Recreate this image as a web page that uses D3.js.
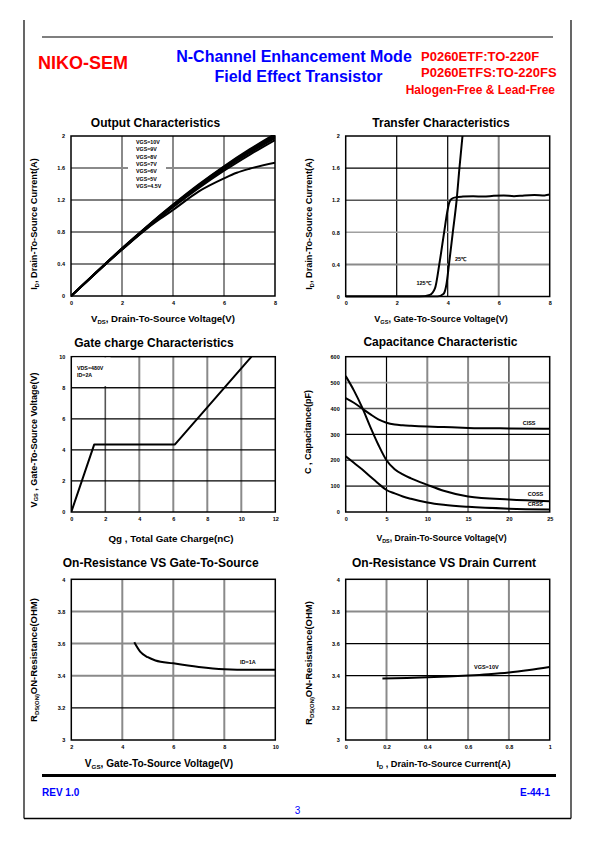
<!DOCTYPE html>
<html><head><meta charset="utf-8">
<script src="https://cdn.jsdelivr.net/npm/d3@7"></script>
<style>body{margin:0;background:#fff}svg{display:block}</style>
</head><body><svg id="c" width="595" height="842"></svg>
<script>
// ---------------- DATA ----------------
// Output characteristics
const outVds = [0, 1, 2, 3, 4, 5, 6, 7, 8];
const outId10 = [0, 0.300, 0.596, 0.876, 1.142, 1.392, 1.622, 1.832, 2.025];
const outId9  = [0, 0.299, 0.593, 0.872, 1.137, 1.385, 1.614, 1.822, 2.012];
const outId8  = [0, 0.298, 0.590, 0.868, 1.132, 1.378, 1.606, 1.812, 2.000];
const outId7  = [0, 0.297, 0.588, 0.864, 1.127, 1.372, 1.598, 1.802, 1.990];
const outId6  = [0, 0.296, 0.585, 0.860, 1.120, 1.362, 1.586, 1.788, 1.975];
const outId5  = [0, 0.295, 0.582, 0.854, 1.110, 1.348, 1.566, 1.765, 1.950];
const outVds45 = [0, 1, 2, 3, 3.5, 4, 5, 6, 6.5, 7, 8];
const outId45  = [0, 0.295, 0.580, 0.848, 0.965, 1.075, 1.305, 1.470, 1.540, 1.590, 1.665];
const outLegend = ["VGS=10V", "VGS=9V", "VGS=8V", "VGS=7V", "VGS=6V", "VGS=5V", "VGS=4.5V"];
const outXTicks = [0, 2, 4, 6, 8];
const outYTicks = [0, 0.4, 0.8, 1.2, 1.6, 2];

// Transfer characteristics
const trVgs125 = [0, 2.9, 3.3, 3.5, 3.67, 3.86, 3.98, 4.06, 4.15, 4.3, 4.6, 5.0, 5.4, 5.8, 6.2, 6.6, 7.0, 7.4, 7.8, 8.0];
const trId125  = [0, 0, 0.02, 0.10, 0.40, 0.80, 1.05, 1.17, 1.215, 1.235, 1.245, 1.25, 1.245, 1.255, 1.26, 1.25, 1.26, 1.265, 1.26, 1.27];
const trVgs25  = [0, 3.6, 3.83, 3.95, 4.05, 4.2, 4.35, 4.46, 4.58];
const trId25   = [0, 0, 0.03, 0.15, 0.40, 0.80, 1.20, 1.60, 2.00];
const trLabels = ["125\u2103", "25\u2103"];
const trXTicks = [0, 2, 4, 6, 8];
const trYTicks = [0, 0.4, 0.8, 1.2, 1.6, 2];

// Gate charge
const gcQg  = [0, 1.35, 6.1, 10.6];
const gcVgs = [0, 4.35, 4.35, 10];
const gcLegend = ["VDS=480V", "ID=2A"];
const gcXTicks = [0, 2, 4, 6, 8, 10, 12];
const gcYTicks = [0, 2, 4, 6, 8, 10];

// Capacitance
const capVds  = [0, 1, 2, 3, 4, 5, 6, 7, 8, 10, 12, 15, 20, 25];
const capCiss = [440, 422, 400, 378, 358, 345, 338, 335, 333, 330, 328, 325, 323, 322];
const capCoss = [525, 470, 405, 330, 260, 200, 165, 145, 130, 105, 82, 60, 48, 42];
const capCrss = [215, 190, 165, 137, 110, 85, 72, 60, 51, 37, 28, 20, 13, 10];
const capLabels = ["CISS", "COSS", "CRSS"];
const capXTicks = [0, 5, 10, 15, 20, 25];
const capYTicks = [0, 100, 200, 300, 400, 500, 600];

// On-resistance vs VGS
const rgVgs = [4.47, 4.7, 5.0, 5.3, 6.0, 7.0, 8.0, 9.0, 10.0];
const rgRds = [3.608, 3.55, 3.515, 3.495, 3.477, 3.455, 3.441, 3.437, 3.437];
const rgLabel = "ID=1A";
const rgXTicks = [2, 4, 6, 8, 10];
const rgYTicks = [3, 3.2, 3.4, 3.6, 3.8, 4];

// On-resistance vs ID
const riId  = [0.18, 0.3, 0.4, 0.5, 0.6, 0.7, 0.8, 0.9, 1.0];
const riRds = [3.382, 3.386, 3.39, 3.395, 3.401, 3.409, 3.42, 3.436, 3.455];
const riLabel = "VGS=10V";
const riXTicks = [0, 0.2, 0.4, 0.6, 0.8, 1];
const riYTicks = [3, 3.2, 3.4, 3.6, 3.8, 4];

// ---------------- DRAW ----------------
const FONT = '"Liberation Sans", Arial, Helvetica, sans-serif';
const svg = d3.select("#c");
svg.append("rect").attr("width", 595).attr("height", 842).attr("fill", "#fff");

const RED = "#ff0000", BLUE = "#0000ff";
function txt(g, s, x, y, size, opts = {}) {
  return g.append("text").attr("x", x).attr("y", y).text(s)
    .attr("font-family", FONT).attr("font-size", size)
    .attr("font-weight", opts.weight || "bold")
    .attr("fill", opts.fill || "#000")
    .attr("text-anchor", opts.anchor || "start");
}
function richText(g, parts, size, attrs) {
  const t = g.append("text").attr("font-family", FONT).attr("font-weight", "bold")
    .attr("font-size", size).attr("fill", "#000");
  for (const k in attrs) t.attr(k, attrs[k]);
  let shifted = false;
  parts.forEach(p => {
    const ts = t.append("tspan").text(p[0]);
    if (p[1] && !shifted) { ts.attr("font-size", size * 0.62).attr("dy", size * 0.22); shifted = true; }
    else if (!p[1] && shifted) { ts.attr("dy", -size * 0.22); shifted = false; }
  });
  return t;
}

// page frame
const page = svg.append("g");
page.append("line").attr("x1", 24).attr("x2", 24).attr("y1", 20).attr("y2", 818.5).attr("stroke", "#000").attr("stroke-width", 1.2);
page.append("line").attr("x1", 571).attr("x2", 571).attr("y1", 20).attr("y2", 818.5).attr("stroke", "#000").attr("stroke-width", 1.2);
page.append("line").attr("x1", 24).attr("x2", 571).attr("y1", 818.5).attr("y2", 818.5).attr("stroke", "#000").attr("stroke-width", 1.5);
page.append("line").attr("x1", 42).attr("x2", 553).attr("y1", 37).attr("y2", 37).attr("stroke", "#000").attr("stroke-width", 1.2);
page.append("line").attr("x1", 42).attr("x2", 556).attr("y1", 775.5).attr("y2", 775.5).attr("stroke", "#000").attr("stroke-width", 3);

// header
txt(page, "NIKO-SEM", 38, 69, 18, { fill: RED });
txt(page, "N-Channel Enhancement Mode", 294, 62, 16, { fill: BLUE, anchor: "middle" });
txt(page, "Field Effect Transistor", 298.5, 81.5, 16, { fill: BLUE, anchor: "middle" });
txt(page, "P0260ETF:TO-220F", 421, 61, 13, { fill: RED });
txt(page, "P0260ETFS:TO-220FS", 421, 76.5, 13, { fill: RED });
txt(page, "Halogen-Free & Lead-Free", 555, 94, 12, { fill: RED, anchor: "end" });

// footer
txt(page, "REV 1.0", 42, 796, 10, { fill: BLUE });
txt(page, "E-44-1", 550, 796, 10, { fill: BLUE, anchor: "end" });
txt(page, "3", 297.5, 814, 10, { fill: BLUE, weight: "normal", anchor: "middle" });

const G = ["#8a8a8a", 2.0], K = ["#000", 1.2], D = ["#555", 1.6], L = ["#a0a0a0", 1.6];
let clipId = 0;
function panel(cfg) {
  const g = svg.append("g");
  const x = d3.scaleLinear().domain(cfg.xDomain).range([cfg.L, cfg.R]);
  const y = d3.scaleLinear().domain(cfg.yDomain).range([cfg.B, cfg.T]);
  cfg.xTicks.forEach((v, i) => {
    const st = cfg.vGrid[i]; if (!st) return;
    g.append("line").attr("x1", x(v)).attr("x2", x(v)).attr("y1", cfg.T).attr("y2", cfg.B)
      .attr("stroke", st[0]).attr("stroke-width", st[1]);
  });
  cfg.yTicks.forEach((v, i) => {
    const st = cfg.hGrid[i]; if (!st) return;
    g.append("line").attr("x1", cfg.L).attr("x2", cfg.R).attr("y1", y(v)).attr("y2", y(v))
      .attr("stroke", st[0]).attr("stroke-width", st[1]);
  });
  g.append("rect").attr("x", cfg.L).attr("y", cfg.T).attr("width", cfg.R - cfg.L).attr("height", cfg.B - cfg.T)
    .attr("fill", "none").attr("stroke", "#000").attr("stroke-width", 1.5);
  const ax = g.append("g").attr("transform", `translate(0,${cfg.B})`)
    .call(d3.axisBottom(x).tickValues(cfg.xTicks).tickSize(0).tickPadding(5).tickFormat(d => String(d)));
  ax.select(".domain").remove();
  ax.selectAll("text").attr("font-family", FONT).attr("font-weight", "bold").attr("font-size", 5.5).attr("fill", "#000");
  const ay = g.append("g").attr("transform", `translate(${cfg.L},0)`)
    .call(d3.axisLeft(y).tickValues(cfg.yTicks).tickSize(0).tickPadding(6).tickFormat(d => String(d)));
  ay.select(".domain").remove();
  ay.selectAll("text").attr("font-family", FONT).attr("font-weight", "bold").attr("font-size", 5.5).attr("fill", "#000");
  txt(g, cfg.title, cfg.titleX, cfg.titleY, 12, { anchor: "middle" });
  richText(g, cfg.xLabel, cfg.xLabelSize, { x: cfg.xLabelX, y: cfg.xLabelY, "text-anchor": "middle" });
  richText(g, cfg.yLabel, cfg.yLabelSize, { "text-anchor": "middle", transform: `translate(${cfg.yLabelX},${cfg.yLabelY}) rotate(-90)` });
  const id = "clip" + (clipId++);
  g.append("clipPath").attr("id", id).append("rect").attr("x", cfg.L).attr("y", cfg.T - 1)
    .attr("width", cfg.R - cfg.L).attr("height", cfg.B - cfg.T + 2);
  const plot = g.append("g").attr("clip-path", `url(#${id})`);
  return { g, plot, x, y };
}
function curve(p, xs, ys, kind) {
  const line = d3.line().x(d => p.x(d[0])).y(d => p.y(d[1])).curve(kind || d3.curveMonotoneX);
  p.plot.append("path").attr("d", line(d3.zip(xs, ys))).attr("fill", "none")
    .attr("stroke", "#000").attr("stroke-width", 2).attr("stroke-linejoin", "round");
}

// 1. Output Characteristics
const p1 = panel({
  L: 71, R: 275, T: 136, B: 296, xDomain: [0, 8], yDomain: [0, 2],
  xTicks: outXTicks, yTicks: outYTicks,
  vGrid: [null, G, G, G, null], hGrid: [null, K, K, K, G, null],
  title: "Output Characteristics", titleX: 155.5, titleY: 127.3,
  xLabel: [["V", 0], ["DS", 1], [", Drain-To-Source Voltage(V)", 0]], xLabelSize: 9.6, xLabelX: 163, xLabelY: 322.3,
  yLabel: [["I", 0], ["D", 1], [", Drain-To-Source Current(A)", 0]], yLabelSize: 9.2, yLabelX: 36.5, yLabelY: 224
});
p1.g.append("rect").attr("x", 128).attr("y", 137).attr("width", 38).attr("height", 54).attr("fill", "#fff");
outLegend.forEach((s, i) => txt(p1.g, s, 136, 144 + i * 7.35, 5.3));
[outId10, outId9, outId8, outId7, outId6, outId5].forEach(ys => curve(p1, outVds, ys));
curve(p1, outVds45, outId45);

// 2. Transfer Characteristics
const p2 = panel({
  L: 345.7, R: 549.7, T: 136, B: 296.5, xDomain: [0, 8], yDomain: [0, 2],
  xTicks: trXTicks, yTicks: trYTicks,
  vGrid: [null, K, K, G, null], hGrid: [null, G, L, D, K, null],
  title: "Transfer Characteristics", titleX: 441, titleY: 127.3,
  xLabel: [["V", 0], ["GS", 1], [", Gate-To-Source Voltage(V)", 0]], xLabelSize: 9.1, xLabelX: 441, xLabelY: 322,
  yLabel: [["I", 0], ["D", 1], [", Drain-To-Source Current(A)", 0]], yLabelSize: 9.2, yLabelX: 311.5, yLabelY: 224
});
curve(p2, trVgs125, trId125);
curve(p2, trVgs25, trId25);
txt(p2.g, trLabels[0], 416.5, 284.5, 5.5);
txt(p2.g, trLabels[1], 455, 260.5, 5.5);

// 3. Gate charge
const p3 = panel({
  L: 71.3, R: 275.3, T: 356.7, B: 512, xDomain: [0, 12], yDomain: [0, 10],
  xTicks: gcXTicks, yTicks: gcYTicks,
  vGrid: [null, D, G, G, G, G, null], hGrid: [null, K, K, K, K, null],
  title: "Gate charge Characteristics", titleX: 154, titleY: 346.7,
  xLabel: [["Qg , Total Gate Charge(nC)", 0]], xLabelSize: 9.8, xLabelX: 171, xLabelY: 541.7,
  yLabel: [["V", 0], ["GS", 1], [" , Gate-To-Source Voltage(V)", 0]], yLabelSize: 9, yLabelX: 36.5, yLabelY: 440
});
p3.g.append("rect").attr("x", 72.5).attr("y", 357.5).attr("width", 38).attr("height", 28.5).attr("fill", "#fff");
p3.g.append("line").attr("x1", 71.3).attr("x2", 275.3).attr("y1", p3.y(8)).attr("y2", p3.y(8)).attr("stroke", "#000").attr("stroke-width", 1.2);
gcLegend.forEach((s, i) => txt(p3.g, s, 77, 370 + i * 7, 5.3));
curve(p3, gcQg, gcVgs, d3.curveLinear);

// 4. Capacitance
const p4 = panel({
  L: 345.7, R: 549.7, T: 356.7, B: 512, xDomain: [0, 25], yDomain: [0, 600],
  xTicks: capXTicks, yTicks: capYTicks,
  vGrid: [null, K, G, G, D, null], hGrid: [null, D, D, K, D, L, null],
  title: "Capacitance Characteristic", titleX: 440.5, titleY: 346,
  xLabel: [["V", 0], ["DS", 1], [", Drain-To-Source Voltage(V)", 0]], xLabelSize: 8.7, xLabelX: 441.5, xLabelY: 541.3,
  yLabel: [["C , Capacitance(pF)", 0]], yLabelSize: 9, yLabelX: 310.5, yLabelY: 432
});
curve(p4, capVds, capCiss);
curve(p4, capVds, capCoss);
curve(p4, capVds, capCrss);
txt(p4.g, capLabels[0], 522.7, 424.7, 5.5);
txt(p4.g, capLabels[1], 527.7, 495.7, 5.5);
txt(p4.g, capLabels[2], 527.7, 505.7, 5.5);

// 5. On-Resistance vs VGS
const p5 = panel({
  L: 71.3, R: 275.3, T: 579.3, B: 740, xDomain: [2, 10], yDomain: [3, 4],
  xTicks: rgXTicks, yTicks: rgYTicks,
  vGrid: [null, G, G, G, null], hGrid: [null, K, G, G, G, null],
  title: "On-Resistance VS Gate-To-Source", titleX: 160.7, titleY: 566.7,
  xLabel: [["V", 0], ["GS", 1], [", Gate-To-Source Voltage(V)", 0]], xLabelSize: 10.1, xLabelX: 159, xLabelY: 767,
  yLabel: [["R", 0], ["DS(ON)", 1], ["ON-Resistance(OHM)", 0]], yLabelSize: 9.5, yLabelX: 36.5, yLabelY: 660
});
curve(p5, rgVgs, rgRds);
txt(p5.g, rgLabel, 240, 664, 5.5);

// 6. On-Resistance vs ID
const p6 = panel({
  L: 345.7, R: 549.7, T: 579.3, B: 740, xDomain: [0, 1], yDomain: [3, 4],
  xTicks: riXTicks, yTicks: riYTicks,
  vGrid: [null, G, K, G, G, null], hGrid: [null, K, K, K, G, null],
  title: "On-Resistance VS Drain Current", titleX: 444, titleY: 566.7,
  xLabel: [["I", 0], ["D", 1], [" , Drain-To-Source Current(A)", 0]], xLabelSize: 9.2, xLabelX: 443.5, xLabelY: 767,
  yLabel: [["R", 0], ["DS(ON)", 1], ["ON-Resistance(OHM)", 0]], yLabelSize: 9.5, yLabelX: 312, yLabelY: 663
});
curve(p6, riId, riRds);
txt(p6.g, riLabel, 474, 668.7, 5.5);
</script></body></html>
